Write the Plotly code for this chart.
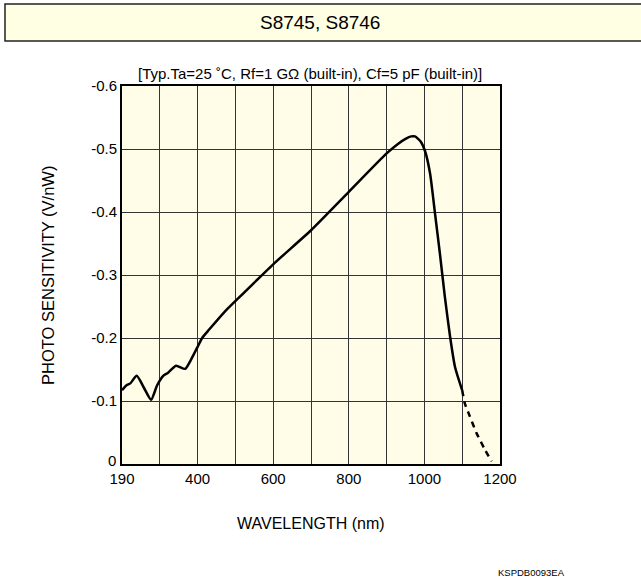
import plotly.graph_objects as go

# Wavelength positions (axis runs 190..1200, drawn with 10 equal cells; first cell labelled 190)
wl_solid = [200, 212, 222, 239, 258, 277, 293, 309, 322, 343, 367, 382, 400, 412, 430, 472, 499,
            600, 700, 800, 900, 930, 950, 965, 975, 990, 1002, 1015, 1028, 1041, 1054, 1068, 1081, 1100]
sens_solid = [-0.117, -0.125, -0.128, -0.140, -0.121, -0.102, -0.125, -0.140, -0.145, -0.156, -0.151,
              -0.165, -0.186, -0.200, -0.213, -0.242, -0.258, -0.317, -0.371, -0.432, -0.493, -0.508,
              -0.516, -0.520, -0.520, -0.512, -0.496, -0.461, -0.398, -0.334, -0.266, -0.202, -0.154, -0.117]

wl_dash = [1100, 1107, 1120, 1138, 1160, 1178]
sens_dash = [-0.117, -0.096, -0.076, -0.049, -0.023, -0.004]

x_tickvals = [200, 300, 400, 500, 600, 700, 800, 900, 1000, 1100, 1200]
x_ticktext = ["190", "", "400", "", "600", "", "800", "", "1000", "", "1200"]
y_tickvals = [0, -0.1, -0.2, -0.3, -0.4, -0.5, -0.6]
y_ticktext = ["", "-0.1", "-0.2", "-0.3", "-0.4", "-0.5", "-0.6"]
y_zero_label = "0"

FONT = "Liberation Sans, Arial, Helvetica, sans-serif"
L, T, W, H = 122, 86, 378, 378


def px(x):
    return (x - L) / W


def py(y):
    return (T + H - y) / H


fig = go.Figure()
fig.add_trace(go.Scatter(x=wl_solid, y=sens_solid, mode="lines",
                         line=dict(color="black", width=2.5, shape="spline", smoothing=0.6),
                         hoverinfo="skip", showlegend=False))
fig.add_trace(go.Scatter(x=wl_dash, y=sens_dash, mode="lines",
                         line=dict(color="black", width=2.5, dash="6px,5px", shape="spline", smoothing=0.6),
                         hoverinfo="skip", showlegend=False))

fig.update_layout(
    width=641, height=579,
    margin=dict(l=L, r=641 - L - W, t=T, b=579 - T - H, pad=0),
    paper_bgcolor="white",
    plot_bgcolor="#FFFCE8",
    font=dict(family=FONT, size=15, color="black"),
    showlegend=False,
    xaxis=dict(range=[200, 1200], tickvals=x_tickvals, ticktext=x_ticktext,
               showgrid=True, gridcolor="#333333", gridwidth=1, zeroline=False,
               showline=True, linecolor="black", linewidth=2, mirror=True,
               ticks="", ticklen=0, tickfont=dict(size=15), fixedrange=True),
    yaxis=dict(range=[0, -0.6], tickvals=y_tickvals, ticktext=y_ticktext,
               showgrid=True, gridcolor="#333333", gridwidth=1, zeroline=False,
               showline=True, linecolor="black", linewidth=2, mirror=True,
               ticks="", ticklen=0, tickfont=dict(size=15), fixedrange=True),
    shapes=[
        dict(type="rect", xref="paper", yref="paper",
             x0=px(5), x1=px(660), y0=py(41), y1=py(4),
             fillcolor="#FFFFE3", line=dict(color="#222222", width=1.5), layer="below"),
    ],
    annotations=[
        dict(text="S8745, S8746", xref="paper", yref="paper", x=px(320), y=py(23),
             showarrow=False, font=dict(size=19), xanchor="center", yanchor="middle"),
        dict(text="[Typ.Ta=25 ˚C, Rf=1 GΩ (built-in), Cf=5 pF (built-in)]", xref="paper", yref="paper",
             x=px(310), y=py(74), showarrow=False, font=dict(size=15), xanchor="center", yanchor="middle"),
        dict(text="WAVELENGTH (nm)", xref="paper", yref="paper", x=px(311), y=py(523),
             showarrow=False, font=dict(size=16), xanchor="center", yanchor="middle"),
        dict(text="PHOTO SENSITIVITY (V/nW)", xref="paper", yref="paper", x=px(48), y=py(276),
             showarrow=False, font=dict(size=16.5), textangle=-90, xanchor="center", yanchor="middle"),
        dict(text="KSPDB0093EA", xref="paper", yref="paper", x=px(567), y=py(572),
             showarrow=False, font=dict(size=9.5), xanchor="right", yanchor="middle"),
        dict(text=y_zero_label, xref="paper", yref="paper", x=px(117), y=py(460),
             showarrow=False, font=dict(size=15), xanchor="right", yanchor="middle",
             borderpad=0),
    ],
)

fig.write_html("out.html", config={"displayModeBar": False},
               post_script="document.body.style.margin='0';")
